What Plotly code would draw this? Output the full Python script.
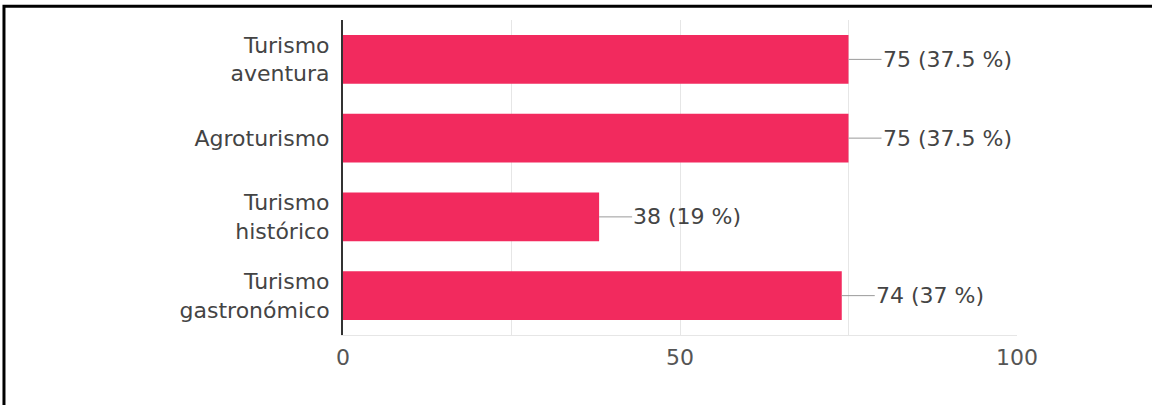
import plotly.graph_objects as go

categories = ["Turismo<br>aventura", "Agroturismo", "Turismo<br>histórico", "Turismo<br>gastronómico"]
counts = [75, 75, 38, 74]
percents = ["37.5", "37.5", "19", "37"]
x_tick_vals = [0, 25, 50, 75, 100]
x_tick_text = ["0", "", "50", "", "100"]

BAR_COLOR = "#f22a5e"
TEXT_COLOR = "#444444"
FONT = "DejaVu Sans"
FSIZE = 22

fig = go.Figure()
fig.add_trace(go.Bar(
    x=counts,
    y=categories,
    orientation="h",
    marker=dict(color=BAR_COLOR, line=dict(width=0)),
    hoverinfo="skip",
))

for c, v, p in zip(categories, counts, percents):
    fig.add_annotation(
        x=v, y=c, xref="x", yref="y",
        text=f"{v} ({p} %)",
        showarrow=True, arrowhead=0, arrowwidth=1, arrowcolor="#9a9a9a",
        ax=33, ay=0, xanchor="left", yanchor="middle",
        standoff=0, borderpad=0,
        font=dict(family=FONT, size=FSIZE, color=TEXT_COLOR),
    )

# outer frame around the image
fig.add_shape(type="rect", xref="paper", yref="paper",
              x0=-0.503, x1=1.3, y0=-0.4, y1=1.044,
              line=dict(color="#000000", width=3), layer="above")

fig.update_layout(
    width=1152, height=405,
    margin=dict(l=343, r=135, t=20, b=70),
    paper_bgcolor="white", plot_bgcolor="white",
    bargap=0.38,
    showlegend=False,
    font=dict(family=FONT, color=TEXT_COLOR),
)
fig.update_xaxes(
    range=[0, 100], tickvals=x_tick_vals, ticktext=x_tick_text,
    showgrid=True, gridcolor="#e6e6e6", gridwidth=1,
    zeroline=False, showline=True, linecolor="#e6e6e6", linewidth=1,
    tickfont=dict(family=FONT, size=FSIZE, color="#555555"),
    ticklabelstandoff=3, fixedrange=True,
)
fig.update_yaxes(
    autorange="reversed", showgrid=False, zeroline=False,
    showline=True, linecolor="#333333", linewidth=2,
    tickfont=dict(family=FONT, size=FSIZE, color=TEXT_COLOR),
    ticklabelstandoff=7, fixedrange=True,
)

fig.write_html("out.html", config={"displayModeBar": False},
               post_script="document.body.style.margin='0px';")
